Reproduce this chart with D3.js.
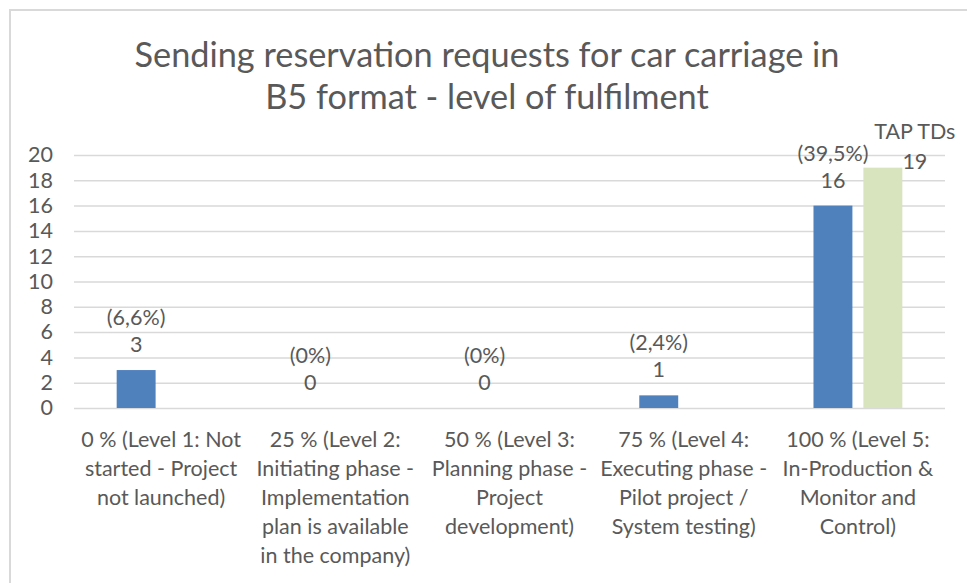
<!DOCTYPE html>
<html>
<head>
<meta charset="utf-8">
<script src="https://cdn.jsdelivr.net/npm/d3@7"></script>
<style>
  body { margin: 0; background: #fff; }
  text { font-family: Lato, "Open Sans", sans-serif; fill: #595959; }
</style>
</head>
<body>
<svg id="chart" width="967" height="583"></svg>
<script>
// data
const categories = [
  "0 % (Level 1: Not|started - Project|not launched)",
  "25 % (Level 2:|Initiating phase -|Implementation|plan is available|in the company)",
  "50 % (Level 3:|Planning phase -|Project|development)",
  "75 % (Level 4:|Executing phase -|Pilot project /|System testing)",
  "100 % (Level 5:|In-Production &|Monitor and|Control)"
];
const responses = [3, 0, 0, 1, 16];
const shares = ["(6,6%)", "(0%)", "(0%)", "(2,4%)", "(39,5%)"];
const tapTds = [null, null, null, null, 19];
const yTicks = [0, 2, 4, 6, 8, 10, 12, 14, 16, 18, 20];
const titleLines = ["Sending reservation requests for car carriage in", "B5 format - level of fulfilment"];

const svg = d3.select("#chart");

// chart frame (only left and top edges are visible)
svg.append("rect")
  .attr("x", 10).attr("y", 10)
  .attr("width", 1000).attr("height", 620)
  .attr("fill", "none")
  .attr("stroke", "#d9d9d9")
  .attr("stroke-width", 2);

const x = d3.scaleBand().domain(d3.range(categories.length)).range([74, 945]);
const y = d3.scaleLinear().domain([0, 20]).range([408, 155]);
const x1 = d3.scaleBand().domain(["resp", "tap"])
  .range([x.bandwidth() * 0.245, x.bandwidth() * 0.755])
  .paddingInner(0.22);

// gridlines
svg.append("g").selectAll("line")
  .data(yTicks)
  .enter().append("line")
  .attr("x1", 74).attr("x2", 945)
  .attr("y1", d => y(d) + 0.5).attr("y2", d => y(d) + 0.5)
  .attr("stroke", "#d9d9d9")
  .attr("stroke-width", 1.5);

// y axis labels
const yAxis = svg.append("g")
  .attr("transform", "translate(53,0)")
  .call(d3.axisLeft(y).tickValues(yTicks).tickSize(0).tickPadding(0));
yAxis.select(".domain").remove();
yAxis.selectAll("text")
  .style("font-family", "Lato, sans-serif")
  .style("font-size", "21.5px")
  .attr("fill", "#595959");

// title
svg.append("g").selectAll("text")
  .data(titleLines)
  .enter().append("text")
  .attr("x", 487)
  .attr("y", (d, i) => 67 + i * 42)
  .attr("text-anchor", "middle")
  .style("font-size", "34.3px")
  .text(d => d);

// bars - responses
svg.append("g").selectAll("rect")
  .data(responses)
  .enter().append("rect")
  .attr("x", (d, i) => x(i) + x1("resp"))
  .attr("width", x1.bandwidth())
  .attr("y", d => y(d))
  .attr("height", d => y(0) - y(d))
  .attr("fill", "#4f81bd");

// bars - TAP TDs
svg.append("g").selectAll("rect")
  .data(tapTds.map((v, i) => ({v, i})).filter(d => d.v != null))
  .enter().append("rect")
  .attr("x", d => x(d.i) + x1("tap"))
  .attr("width", x1.bandwidth())
  .attr("y", d => y(d.v))
  .attr("height", d => y(0) - y(d.v))
  .attr("fill", "#d7e4bd");

// data labels
const labels = svg.append("g").style("font-size", "21.5px");
responses.forEach((v, i) => {
  const cx = x(i) + x1("resp") + x1.bandwidth() / 2;
  labels.append("text")
    .attr("x", cx).attr("y", y(v) - 18)
    .attr("text-anchor", "middle")
    .text(v);
  labels.append("text")
    .attr("x", cx).attr("y", y(v) - 45)
    .attr("text-anchor", "middle")
    .text(shares[i]);
});
tapTds.forEach((v, i) => {
  if (v == null) return;
  const cx = x(i) + x1("tap") + x1.bandwidth() / 2 + 32;
  labels.append("text")
    .attr("x", cx).attr("y", y(v) + 1)
    .attr("text-anchor", "middle")
    .text(v);
  labels.append("text")
    .attr("x", cx).attr("y", y(v) - 29)
    .attr("text-anchor", "middle")
    .text("TAP TDs");
});

// category labels
const cats = svg.append("g").style("font-size", "21.5px");
categories.forEach((c, i) => {
  const t = cats.append("text")
    .attr("x", x(i) + x.bandwidth() / 2)
    .attr("y", 447)
    .attr("text-anchor", "middle");
  c.split("|").forEach((line, j) => {
    t.append("tspan")
      .attr("x", x(i) + x.bandwidth() / 2)
      .attr("dy", j === 0 ? 0 : 29)
      .text(line);
  });
});
</script>
</body>
</html>
